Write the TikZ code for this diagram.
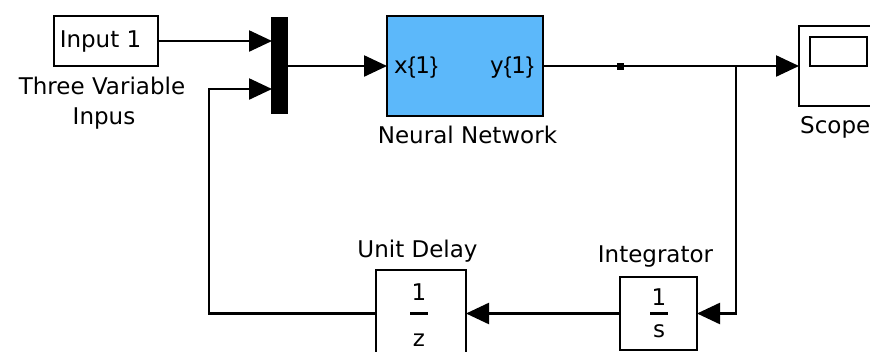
\documentclass[tikz,border=0pt]{standalone}
\usepackage{fontspec}
\setmainfont{DejaVu Sans}
\newfontfamily\bracef{Liberation Sans}
\usetikzlibrary{arrows.meta}
\definecolor{nnblue}{RGB}{92,184,250}
\begin{document}
\begin{tikzpicture}[x=1pt,y=-1pt,
  every node/.style={font=\fontsize{23}{28}\selectfont},
  blk/.style={draw, line width=2.4pt, inner sep=0pt, outer sep=0pt},
  lbl/.style={inner sep=0pt, anchor=base},
  wire/.style={line width=2.4pt},
  sig/.style={wire, -{Triangle[length=23pt,width=21pt]}},
]
\useasboundingbox (0,0) rectangle (870,351);
\clip (0,0) rectangle (870,351);
% blocks
\node[blk, minimum width=104pt, minimum height=50pt] (inp) at (106,41) {};
\node[blk, fill=black, minimum width=15pt, minimum height=95pt] (mux) at (279.5,65.5) {};
\node[blk, fill=nnblue, minimum width=156pt, minimum height=100pt] (nn) at (465,66) {};
\node[blk, minimum width=80pt, minimum height=80pt] (scope) at (839,66) {};
\node[blk, minimum width=57pt, minimum height=29pt] (scr) at (838.5,51.5) {};
\node[blk, minimum width=90pt, minimum height=87pt] (delay) at (421,313.5) {};
\node[blk, minimum width=77pt, minimum height=73pt] (integ) at (658.5,313.5) {};
% texts
\node[lbl] (t1) at (100.5,47) {Input 1};
\node[lbl] (t2) at (102,94) {Three Variable};
\node[lbl] (t3) at (104,124) {Inpus};
\node[lbl] (xin) at (416,73) {x{\bracef\{}1{\bracef\}}};
\node[lbl] (yout) at (512,73) {y{\bracef\{}1{\bracef\}}};
\node[lbl] (nnl) at (467.5,143) {Neural Network};
\node[lbl, anchor=base west] (scl) at (800,133) {Scope};
\node[lbl] (udl) at (417.5,257) {Unit Delay};
\node[lbl] (one1) at (419,300) {1};
\node[lbl] (zz) at (419,346) {z};
\node[lbl] (intl) at (655.5,262) {Integrator};
\node[lbl] (one2) at (659,305) {1};
\node[lbl] (ss) at (659,337) {s};
\draw[wire] (410,313.5) -- (428,313.5);
\draw[wire] (650,313.5) -- (668,313.5);
% connectors
\coordinate (br) at (736,66);
\coordinate (fb) at (209,89);
\node[fill=black, inner sep=0pt, minimum size=7pt] (dot) at (620,66) {};
\draw[sig] (inp.east) -- (inp.east -| mux.west);
\draw[sig] (mux.east |- nn.west) -- (nn.west);
\draw[sig] (nn.east) -- (scope.west);
\draw[sig] (br) |- (integ.east);
\draw[sig] (integ.west) -- (integ.west -| delay.east);
\draw[sig] (delay.west) -| (fb) -- (fb -| mux.west);
\end{tikzpicture}
\end{document}
